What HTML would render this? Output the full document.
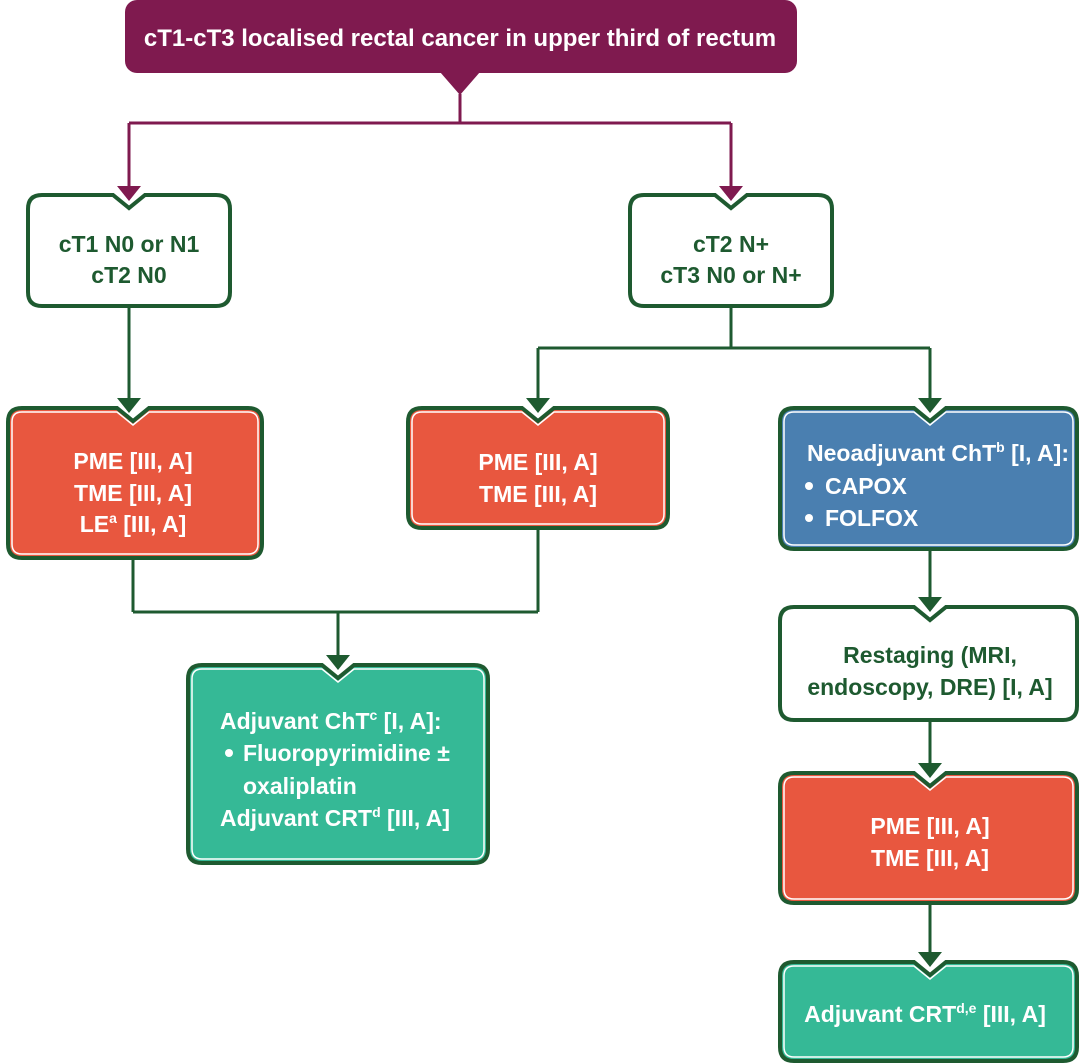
<!DOCTYPE html>
<html><head><meta charset="utf-8"><style>
html,body{margin:0;padding:0;background:#fff}
svg{display:block}
text{font-family:"Liberation Sans Narrow","Liberation Sans",sans-serif;font-weight:bold;font-size:23px}
.g{fill:#1e5a30}.w{fill:#fff}
.bx{stroke:#1e5a30;stroke-width:4}
.in{fill:none;stroke:#fff;stroke-width:1.5}
.ln{stroke:#1e5a30;stroke-width:3;fill:none}
.pl{stroke:#7f1a4f;stroke-width:3;fill:none}
</style></head><body>
<svg width="1080" height="1064" viewBox="0 0 1080 1064" xmlns="http://www.w3.org/2000/svg">
<!-- top -->
<rect x="125" y="0" width="672" height="73" rx="12" fill="#7f1a4f"/>
<polygon points="440,72 480,72 460,95" fill="#7f1a4f"/>
<text x="460" y="46" text-anchor="middle" class="w" style="font-size:24px">cT1-cT3 localised rectal cancer in upper third of rectum</text>
<path class="pl" d="M460,94 V123 M129,123 H731 M129,123 V188 M731,123 V188"/>
<polygon points="117,186 141,186 129,201" fill="#7f1a4f"/>
<polygon points="719,186 743,186 731,201" fill="#7f1a4f"/>

<!-- connectors green -->
<path class="ln" d="M129,306 V400 M731,306 V348 M538,348 H930 M538,348 V400 M930,348 V400
M133,558 V612 M538,528 V612 M133,612 H538 M338,612 V657
M930,549 V599 M930,720 V765 M930,903 V954"/>
<g fill="#1e5a30">
<polygon points="117,398 141,398 129,413"/>
<polygon points="526,398 550,398 538,413"/>
<polygon points="918,398 942,398 930,413"/>
<polygon points="326,655 350,655 338,670"/>
<polygon points="918,597 942,597 930,612"/>
<polygon points="918,763 942,763 930,778"/>
<polygon points="918,952 942,952 930,967"/>
</g>

<!-- A -->
<path class="bx" fill="#fff" d="M42,195 H113 L129,208 L145,195 H216 Q230,195 230,209 V292 Q230,306 216,306 H42 Q28,306 28,292 V209 Q28,195 42,195Z"/>
<text x="129" y="252" text-anchor="middle" class="g">cT1 N0 or N1</text>
<text x="129" y="283" text-anchor="middle" class="g">cT2 N0</text>
<!-- B -->
<path class="bx" fill="#fff" d="M644,195 H715 L731,208 L747,195 H818 Q832,195 832,209 V292 Q832,306 818,306 H644 Q630,306 630,292 V209 Q630,195 644,195Z"/>
<text x="731" y="252" text-anchor="middle" class="g">cT2 N+</text>
<text x="731" y="283" text-anchor="middle" class="g">cT3 N0 or N+</text>
<!-- C -->
<path class="bx" fill="#e8573f" d="M22,408 H117 L133,421 L149,408 H248 Q262,408 262,422 V544 Q262,558 248,558 H22 Q8,558 8,544 V422 Q8,408 22,408Z"/>
<path class="in" d="M22,412 H117 L133,425 L149,412 H248 Q258,412 258,422 V544 Q258,554 248,554 H22 Q12,554 12,544 V422 Q12,412 22,412Z"/>
<text x="133" y="469" text-anchor="middle" class="w">PME [III, A]</text>
<text x="133" y="501" text-anchor="middle" class="w">TME [III, A]</text>
<text x="133" y="532" text-anchor="middle" class="w">LE<tspan font-size="14" dy="-9">a</tspan><tspan dy="9"> [III, A]</tspan></text>
<!-- D -->
<path class="bx" fill="#e8573f" d="M422,408 H522 L538,421 L554,408 H654 Q668,408 668,422 V514 Q668,528 654,528 H422 Q408,528 408,514 V422 Q408,408 422,408Z"/>
<path class="in" d="M422,412 H522 L538,425 L554,412 H654 Q664,412 664,422 V514 Q664,524 654,524 H422 Q412,524 412,514 V422 Q412,412 422,412Z"/>
<text x="538" y="470" text-anchor="middle" class="w">PME [III, A]</text>
<text x="538" y="502" text-anchor="middle" class="w">TME [III, A]</text>
<!-- E -->
<path class="bx" fill="#4a7fb0" d="M794,408 H914 L930,421 L946,408 H1063 Q1077,408 1077,422 V535 Q1077,549 1063,549 H794 Q780,549 780,535 V422 Q780,408 794,408Z"/>
<path class="in" d="M794,412 H914 L930,425 L946,412 H1063 Q1073,412 1073,422 V535 Q1073,545 1063,545 H794 Q784,545 784,535 V422 Q784,412 794,412Z"/>
<text x="807" y="461" class="w">Neoadjuvant ChT<tspan font-size="14" dy="-9">b</tspan><tspan dy="9"> [I, A]:</tspan></text>
<circle cx="809" cy="486" r="4" fill="#fff"/><text x="825" y="494" class="w">CAPOX</text>
<circle cx="809" cy="518" r="4" fill="#fff"/><text x="825" y="526" class="w">FOLFOX</text>
<!-- G -->
<path class="bx" fill="#fff" d="M794,607 H914 L930,620 L946,607 H1063 Q1077,607 1077,621 V706 Q1077,720 1063,720 H794 Q780,720 780,706 V621 Q780,607 794,607Z"/>
<text x="930" y="663" text-anchor="middle" class="g">Restaging (MRI,</text>
<text x="930" y="695" text-anchor="middle" class="g">endoscopy, DRE) [I, A]</text>
<!-- H -->
<path class="bx" fill="#e8573f" d="M794,773 H914 L930,786 L946,773 H1063 Q1077,773 1077,787 V889 Q1077,903 1063,903 H794 Q780,903 780,889 V787 Q780,773 794,773Z"/>
<path class="in" d="M794,777 H914 L930,790 L946,777 H1063 Q1073,777 1073,787 V889 Q1073,899 1063,899 H794 Q784,899 784,889 V787 Q784,777 794,777Z"/>
<text x="930" y="834" text-anchor="middle" class="w">PME [III, A]</text>
<text x="930" y="866" text-anchor="middle" class="w">TME [III, A]</text>
<!-- I -->
<path class="bx" fill="#35b996" d="M794,962 H914 L930,975 L946,962 H1063 Q1077,962 1077,976 V1047 Q1077,1061 1063,1061 H794 Q780,1061 780,1047 V976 Q780,962 794,962Z"/>
<path class="in" d="M794,966 H914 L930,979 L946,966 H1063 Q1073,966 1073,976 V1047 Q1073,1057 1063,1057 H794 Q784,1057 784,1047 V976 Q784,966 794,966Z"/>
<text x="925" y="1022" text-anchor="middle" class="w">Adjuvant CRT<tspan font-size="14" dy="-9">d,e</tspan><tspan dy="9"> [III, A]</tspan></text>
<!-- F -->
<path class="bx" fill="#35b996" d="M202,665 H322 L338,678 L354,665 H474 Q488,665 488,679 V849 Q488,863 474,863 H202 Q188,863 188,849 V679 Q188,665 202,665Z"/>
<path class="in" d="M202,669 H322 L338,682 L354,669 H474 Q484,669 484,679 V849 Q484,859 474,859 H202 Q192,859 192,849 V679 Q192,669 202,669Z"/>
<text x="220" y="729" class="w">Adjuvant ChT<tspan font-size="14" dy="-9">c</tspan><tspan dy="9"> [I, A]:</tspan></text>
<circle cx="229" cy="753" r="4" fill="#fff"/><text x="243" y="761" class="w">Fluoropyrimidine ±</text>
<text x="243" y="794" class="w">oxaliplatin</text>
<text x="220" y="826" class="w">Adjuvant CRT<tspan font-size="14" dy="-9">d</tspan><tspan dy="9"> [III, A]</tspan></text>
</svg>
</body></html>
